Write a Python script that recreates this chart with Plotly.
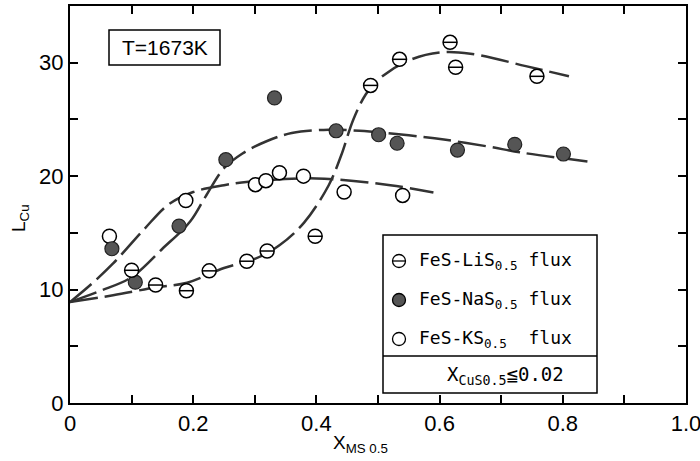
import plotly.graph_objects as go

# ---- data ----
lis_x = [0.100, 0.139, 0.189, 0.226, 0.287, 0.320, 0.398, 0.488, 0.535, 0.617, 0.626, 0.758]
lis_y = [11.7, 10.4, 9.9, 11.65, 12.5, 13.4, 14.7, 28.0, 30.3, 31.8, 29.6, 28.8]

nas_x = [0.068, 0.106, 0.177, 0.253, 0.332, 0.432, 0.501, 0.531, 0.629, 0.722, 0.801]
nas_y = [13.6, 10.65, 15.6, 21.45, 26.9, 24.0, 23.65, 22.9, 22.3, 22.8, 21.95]

ks_x = [0.064, 0.188, 0.301, 0.318, 0.340, 0.379, 0.445, 0.540]
ks_y = [14.7, 17.85, 19.25, 19.6, 20.3, 20.0, 18.6, 18.3]

# fitted curves
lis_cx = [0, 0.07, 0.14, 0.19, 0.25, 0.30, 0.34, 0.38, 0.42, 0.44, 0.46, 0.48, 0.50, 0.55, 0.60, 0.65, 0.74, 0.81]
lis_cy = [8.9, 9.5, 10.2, 10.6, 11.9, 12.7, 13.9, 15.9, 19.2, 21.8, 25.0, 27.2, 28.5, 30.2, 30.9, 30.8, 29.7, 28.8]

nas_cx = [0, 0.05, 0.10, 0.15, 0.195, 0.22, 0.25, 0.28, 0.32, 0.36, 0.42, 0.47, 0.55, 0.61, 0.68, 0.73, 0.84]
nas_cy = [8.9, 9.9, 11.1, 13.6, 16.0, 18.2, 20.7, 22.0, 23.1, 23.8, 24.1, 24.0, 23.6, 23.2, 22.6, 22.1, 21.3]

ks_cx = [0, 0.035, 0.07, 0.12, 0.16, 0.20, 0.25, 0.29, 0.40, 0.52, 0.59]
ks_cy = [8.9, 10.5, 12.3, 15.3, 17.5, 18.6, 19.2, 19.5, 19.8, 19.2, 18.55]

x_ticks = [0, 0.1, 0.2, 0.3, 0.4, 0.5, 0.6, 0.7, 0.8, 0.9, 1.0]
x_ticktext = ["0", "", "0.2", "", "0.4", "", "0.6", "", "0.8", "", "1.0"]
y_ticks = [0, 5, 10, 15, 20, 25, 30]
y_ticktext = ["0", "", "10", "", "20", "", "30"]

legend_labels = ["FeS-LiS<sub>0.5</sub> flux", "FeS-NaS<sub>0.5</sub> flux", "FeS-KS<sub>0.5</sub>  flux"]

# ---- styling ----
W, H = 700, 461
L, R, T, B = 70, 14, 6, 58
PW, PH = W - L - R, H - T - B
NARROW = "Liberation Sans Narrow, Arial Narrow, Liberation Sans, Arial"
MONO = "DejaVu Sans Mono, Liberation Mono, monospace"
LINE_C = "#333333"
FILL_C = "#555555"
DASH = "28px,7px"


def px(x):
    return (x - L) / PW


def py(y):
    return (H - B - y) / PH


fig = go.Figure()

for cx, cy in [(lis_cx, lis_cy), (nas_cx, nas_cy), (ks_cx, ks_cy)]:
    fig.add_trace(go.Scatter(x=cx, y=cy, mode="lines", line=dict(color=LINE_C, width=2.5, dash=DASH, shape="spline", smoothing=1.0),
                             showlegend=False, hoverinfo="skip"))

fig.add_trace(go.Scatter(x=ks_x, y=ks_y, mode="markers", name="FeS-KS0.5 flux",
                         marker=dict(symbol="circle", size=14, color="white", line=dict(color="black", width=1.5)), showlegend=False))
fig.add_trace(go.Scatter(x=nas_x, y=nas_y, mode="markers", name="FeS-NaS0.5 flux",
                         marker=dict(symbol="circle", size=14, color=FILL_C, line=dict(color="#222222", width=1.2)), showlegend=False))
fig.add_trace(go.Scatter(x=lis_x, y=lis_y, mode="markers", name="FeS-LiS0.5 flux",
                         marker=dict(symbol="circle", size=14, color="white", line=dict(color="black", width=1.5)), showlegend=False))
fig.add_trace(go.Scatter(x=lis_x, y=lis_y, mode="markers", hoverinfo="skip",
                         marker=dict(symbol="line-ew", size=10, color="black", line=dict(color="black", width=1.5)), showlegend=False))

shapes = []
annotations = []

# T box
shapes.append(dict(type="rect", xref="paper", yref="paper", x0=px(109), x1=px(220), y0=py(65), y1=py(30),
                   line=dict(color="black", width=1.5), fillcolor="white"))
annotations.append(dict(xref="paper", yref="paper", x=px(165), y=py(47), text="T=1673K", showarrow=False,
                        font=dict(family=NARROW, size=21, color="black"), xanchor="center", yanchor="middle"))

# legend box
shapes.append(dict(type="rect", xref="paper", yref="paper", x0=px(383), x1=px(597), y0=py(393), y1=py(235),
                   line=dict(color="black", width=1.5), fillcolor="white", layer="above"))
shapes.append(dict(type="line", xref="paper", yref="paper", x0=px(383), x1=px(597), y0=py(356), y1=py(356),
                   line=dict(color="black", width=1.5), layer="above"))
rows = [261, 300, 339]
r = 6.5
mx = 399
fills = ["white", FILL_C, "white"]
for ry, fc, lab in zip(rows, fills, legend_labels):
    shapes.append(dict(type="circle", xref="paper", yref="paper", x0=px(mx - r), x1=px(mx + r), y0=py(ry + r), y1=py(ry - r),
                       line=dict(color="black", width=1.3), fillcolor=fc, layer="above"))
    annotations.append(dict(xref="paper", yref="paper", x=px(417), y=py(ry), text=lab, showarrow=False,
                            font=dict(family=MONO, size=18, color="black"), xanchor="left", yanchor="middle"))
shapes.append(dict(type="line", xref="paper", yref="paper", x0=px(mx - r), x1=px(mx + r), y0=py(rows[0]), y1=py(rows[0]),
                   line=dict(color="black", width=1.3), layer="above"))
annotations.append(dict(xref="paper", yref="paper", x=px(505), y=py(375), text="X<sub>CuS0.5</sub>≦0.02", showarrow=False,
                        font=dict(family=MONO, size=19, color="black"), xanchor="center", yanchor="middle"))

# axis titles
annotations.append(dict(xref="paper", yref="paper", x=px(360), y=py(444), text="X<sub>MS 0.5</sub>", showarrow=False,
                        font=dict(family=NARROW, size=19, color="black"), xanchor="center", yanchor="middle"))
annotations.append(dict(xref="paper", yref="paper", x=px(20), y=py(218), text="L<sub>Cu</sub>", showarrow=False, textangle=-90,
                        font=dict(family=NARROW, size=19, color="black"), xanchor="center", yanchor="middle"))

axis_common = dict(showgrid=False, zeroline=False, showline=True, linecolor="black", linewidth=2, mirror="allticks",
                   ticks="inside", ticklen=8, tickwidth=1.5, tickcolor="black", ticklabeloverflow="allow",
                   automargin=False, tickfont=dict(family=NARROW, size=22, color="black"))

fig.update_layout(
    width=W, height=H,
    margin=dict(l=L, r=R, t=T, b=B, autoexpand=False),
    paper_bgcolor="white", plot_bgcolor="white",
    xaxis=dict(range=[0, 1.0], tickvals=x_ticks, ticktext=x_ticktext, **axis_common),
    yaxis=dict(range=[0, 35], tickvals=y_ticks, ticktext=y_ticktext, **axis_common),
    shapes=shapes, annotations=annotations, showlegend=False,
)

fig.write_html("out.html")
